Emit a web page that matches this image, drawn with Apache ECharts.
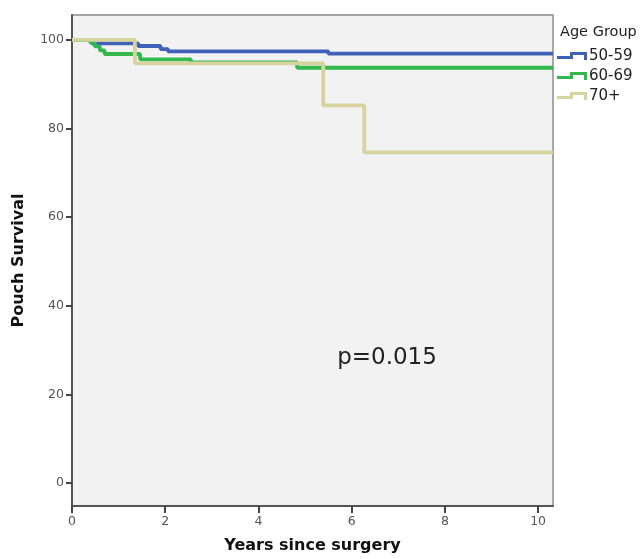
<!DOCTYPE html>
<html>
<head>
<meta charset="utf-8">
<script src="https://cdn.jsdelivr.net/npm/echarts@6/dist/echarts.min.js"></script>
<style>
html,body{margin:0;padding:0;background:#fff;}
#chart{width:641px;height:559px;}
</style>
</head>
<body>
<div id="chart"></div>
<script>
// Data (years, survival %)
const groupNames = ['50-59', '60-69', '70+'];
const group5059 = [[0,100],[0.42,99.2],[1.42,98.6],[1.9,97.9],[2.06,97.4],[5.5,96.9],[10.32,96.9]];
const group6069 = [[0,100],[0.39,99.4],[0.49,98.5],[0.6,97.6],[0.7,96.8],[1.46,95.6],[2.55,94.9],[4.83,93.7],[10.32,93.7]];
const group70plus = [[0,100],[1.35,94.7],[5.39,85.2],[6.27,74.6],[10.32,74.6]];
const xTicks = [0, 2, 4, 6, 8, 10];
const yTicks = [0, 20, 40, 60, 80, 100];
const pText = 'p=0.015';
const legendTitle = 'Age Group';
const xTitle = 'Years since surgery';
const yTitle = 'Pouch Survival';

const colors = ['#4161b8', '#33b84d', '#d7d29e'];
const stepIcon = 'path://M0,4 L13,4 L13,0 L30,0 L30,8 L27,8 L27,3 L16,3 L16,7 L0,7 Z';
const font = 'DejaVu Sans';

const chart = echarts.init(document.getElementById('chart'), null, {renderer: 'canvas'});
const seriesData = [group5059, group6069, group70plus];

chart.setOption({
  animation: false,
  backgroundColor: '#ffffff',
  textStyle: {fontFamily: font},
  grid: {
    left: 72, top: 15, right: 88, bottom: 52,
    show: true, backgroundColor: '#f2f2f2', borderColor: '#8c8c8c', borderWidth: 1.5
  },
  xAxis: {
    type: 'value', min: 0, max: 10.32,
    name: xTitle, nameLocation: 'middle', nameGap: 32,
    nameTextStyle: {fontFamily: font, fontSize: 16, fontWeight: 'bold', color: '#111'},
    axisLine: {show: true, onZero: false, lineStyle: {color: '#555', width: 2}},
    axisTick: {show: true, length: 7, lineStyle: {color: '#444', width: 2}, customValues: xTicks},
    axisLabel: {fontFamily: font, fontSize: 12.5, color: '#555', margin: 9, customValues: xTicks},
    splitLine: {show: false}
  },
  yAxis: {
    type: 'value', min: -5.2, max: 105.6,
    name: yTitle, nameLocation: 'middle', nameGap: 45, nameRotate: 90,
    nameTextStyle: {fontFamily: font, fontSize: 16, fontWeight: 'bold', color: '#111'},
    axisLine: {show: true, onZero: false, lineStyle: {color: '#555', width: 2}},
    axisTick: {show: true, length: 6, lineStyle: {color: '#444', width: 2}, customValues: yTicks},
    axisLabel: {fontFamily: font, fontSize: 12.5, color: '#555', margin: 8, customValues: yTicks},
    splitLine: {show: false}
  },
  legend: {
    orient: 'vertical', left: 557, top: 48, padding: 0, itemGap: 4,
    itemWidth: 30, itemHeight: 8, icon: stepIcon,
    textStyle: {fontFamily: font, fontSize: 15, color: '#222', lineHeight: 16, padding: [0,0,0,-3]},
    data: groupNames
  },
  graphic: [
    {type: 'text', left: 560, top: 25, style: {text: legendTitle, font: '14.5px "DejaVu Sans"', fill: '#222'}},
    {type: 'text', x: 387, y: 358, style: {text: pText, font: '23px "DejaVu Sans"', fill: '#222', align: 'center', verticalAlign: 'middle'}}
  ],
  series: groupNames.map((n, i) => ({
    name: n, type: 'line', step: 'end', data: seriesData[i],
    showSymbol: false, symbol: 'none',
    color: colors[i],
    itemStyle: {color: colors[i]},
    lineStyle: {color: colors[i], width: 3.8},
    z: 2 + i
  }))
});
</script>
</body>
</html>
